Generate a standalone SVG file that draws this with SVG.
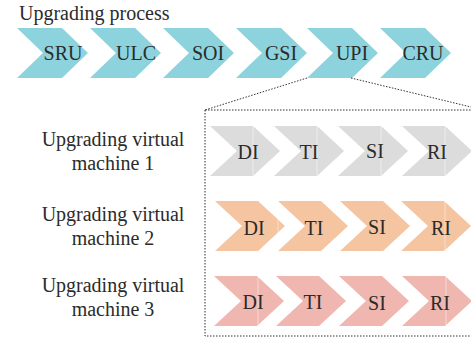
<svg xmlns="http://www.w3.org/2000/svg" width="471" height="339" viewBox="0 0 471 339">
<defs>
<style>
text{font-size:20px;fill:#2b2b2b}
.c{text-anchor:middle}
.teal{fill:#8dd3dd}
.gray{fill:#dcdcdd}
.orange{fill:#f5c4a1}
.pink{fill:#f0b6b0}
.dot{fill:none;stroke:#333;stroke-width:1;stroke-dasharray:1.5,1.5}
.seam{stroke:#fff;stroke-width:0.8;opacity:0.6}
</style>
<path id="big" d="M0,0 H45 L71,25 L45,50 H0 L26,25 Z"/>
<path id="small" d="M0,0 H43 L70,25 L43,50 H0 L27,25 Z"/>
</defs>
<rect width="471" height="339" fill="#fff"/>
<g font-family="Liberation Serif, DejaVu Serif, serif">
<text x="19" y="20">Upgrading process</text>

<g id="top-SRU"><use href="#big" class="teal" x="17" y="28"/><text class="c" x="63" y="60">SRU</text></g>
<g id="top-ULC"><use href="#big" class="teal" x="90" y="28"/><text class="c" x="136" y="60">ULC</text></g>
<g id="top-SOI"><use href="#big" class="teal" x="163" y="28"/><text class="c" x="208" y="60">SOI</text></g>
<g id="top-GSI"><use href="#big" class="teal" x="236" y="28"/><text class="c" x="281" y="60">GSI</text></g>
<g id="top-UPI"><use href="#big" class="teal" x="307" y="28"/><text class="c" x="352" y="60">UPI</text></g>
<g id="top-CRU"><use href="#big" class="teal" x="380" y="28"/><text class="c" x="423" y="60">CRU</text></g>

<g id="connectors">
<path class="dot" d="M307,78 L205,110"/>
<path class="dot" d="M351,78 L471,107"/>
<path class="dot" d="M205,110 H471 M205,110 V336 H471"/>
</g>

<g id="label-vm1"><text class="c" x="113" y="146">Upgrading virtual</text><text class="c" x="113" y="170">machine 1</text></g>
<g id="label-vm2"><text class="c" x="113" y="221">Upgrading virtual</text><text class="c" x="113" y="245">machine 2</text></g>
<g id="label-vm3"><text class="c" x="113" y="292">Upgrading virtual</text><text class="c" x="113" y="316">machine 3</text></g>

<g id="vm1-DI"><use href="#small" class="gray" x="210" y="126"/><line class="seam" x1="253" y1="126" x2="253" y2="176"/><text class="c" x="248" y="159">DI</text></g>
<g id="vm1-TI"><use href="#small" class="gray" x="274" y="126"/><line class="seam" x1="317" y1="126" x2="317" y2="176"/><text class="c" x="309" y="159">TI</text></g>
<g id="vm1-SI"><use href="#small" class="gray" x="338" y="126"/><line class="seam" x1="381" y1="126" x2="381" y2="176"/><text class="c" x="375" y="158">SI</text></g>
<g id="vm1-RI"><use href="#small" class="gray" x="402" y="126"/><line class="seam" x1="445" y1="126" x2="445" y2="176"/><text class="c" x="437" y="159">RI</text></g>

<g id="vm2-DI"><use href="#small" class="orange" x="215" y="201"/><text class="c" x="254" y="235">DI</text></g>
<g id="vm2-TI"><use href="#small" class="orange" x="278" y="201"/><line class="seam" x1="278" y1="201" x2="278" y2="251"/><text class="c" x="314" y="235">TI</text></g>
<g id="vm2-SI"><use href="#small" class="orange" x="340" y="201"/><text class="c" x="377" y="234">SI</text></g>
<g id="vm2-RI"><use href="#small" class="orange" x="401" y="201"/><line class="seam" x1="445" y1="201" x2="445" y2="251"/><text class="c" x="441" y="235">RI</text></g>

<g id="vm3-DI"><use href="#small" class="pink" x="214" y="276"/><line class="seam" x1="258" y1="276" x2="258" y2="326"/><text class="c" x="253" y="309">DI</text></g>
<g id="vm3-TI"><use href="#small" class="pink" x="276" y="276"/><text class="c" x="313" y="309">TI</text></g>
<g id="vm3-SI"><use href="#small" class="pink" x="339" y="276"/><text class="c" x="377" y="310">SI</text></g>
<g id="vm3-RI"><use href="#small" class="pink" x="402" y="276"/><line class="seam" x1="446" y1="276" x2="446" y2="326"/><text class="c" x="440" y="310">RI</text></g>
</g>
</svg>
